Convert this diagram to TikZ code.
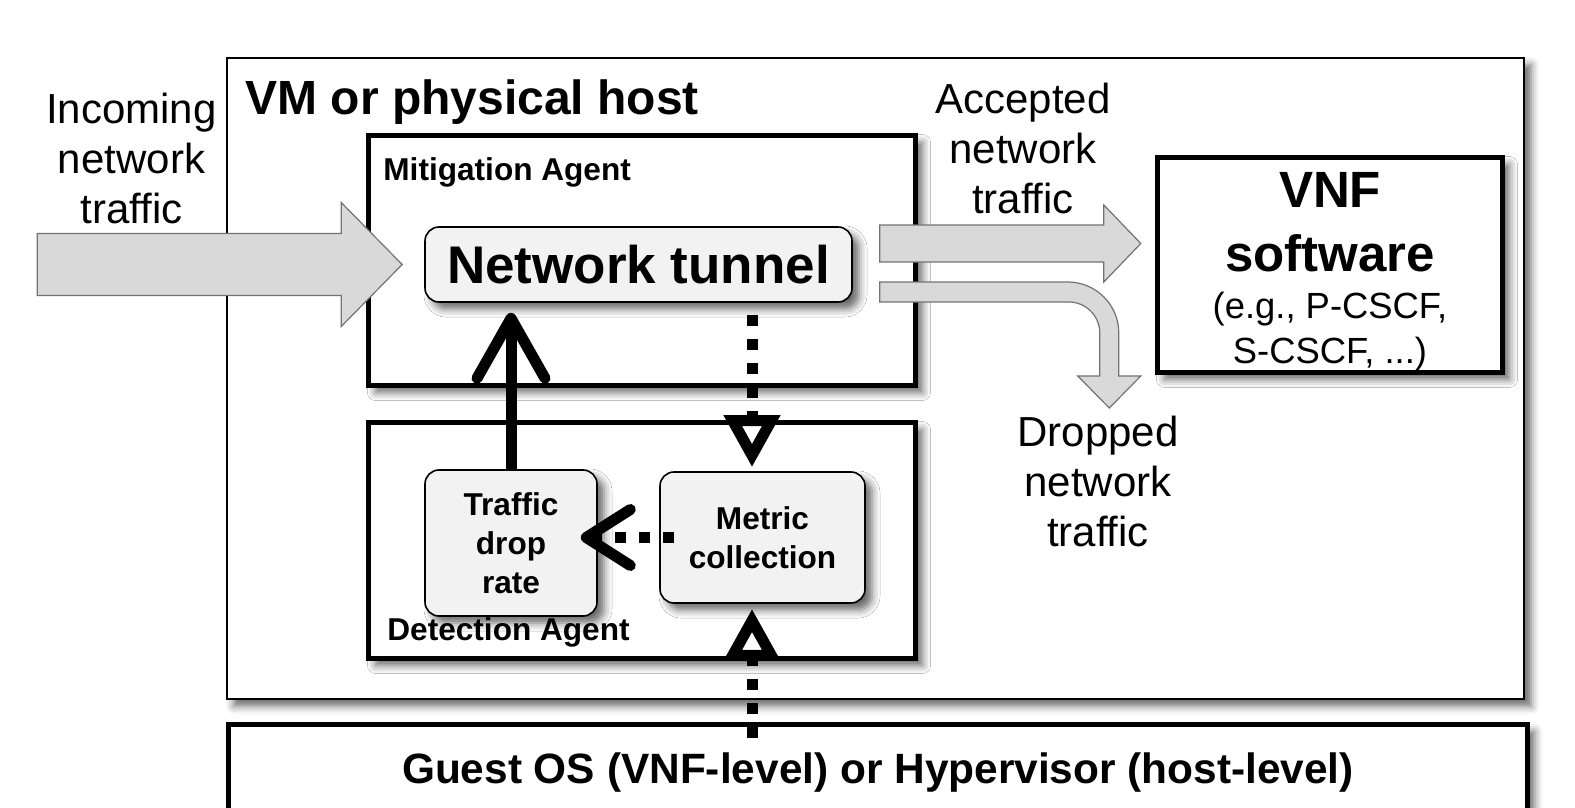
\documentclass[tikz,border=0pt]{standalone}
\usepackage{fontspec}
\setmainfont[Ligatures=NoCommon]{Liberation Sans}
\usetikzlibrary{arrows.meta,shadows,shadows.blur}

\tikzset{
  boxshadow/.style={blur shadow={shadow xshift=3.5pt,shadow yshift=-3.5pt,shadow blur radius=4pt,shadow opacity=60}},
  hostbox/.style={draw,line width=1pt,fill=white,boxshadow,inner sep=0pt,anchor=north west},
  agentbox/.style={draw,line width=2.5pt,fill=white,boxshadow,inner sep=0pt,anchor=north west},
  taskbox/.style={draw,line width=0.8pt,fill=black!5,rounded corners=7pt,boxshadow,align=center,inner sep=0pt,
    font=\fontsize{15.8}{19.5}\selectfont\bfseries},
  boxlabel/.style={anchor=base west,inner sep=0pt,font=\fontsize{15.8}{19}\selectfont\bfseries},
  flow/.style={draw=black!55,line width=0.6pt,fill=black!15},
  plain/.style={align=center,font=\fontsize{21}{25}\selectfont},
  ctrl/.style={line width=5.5pt,-{Straight Barb[length=30pt,width=34pt,round]}},
  probe/.style={line width=5.5pt,dash pattern=on 5.5pt off 6.5pt},
  probetip/.style={-{Triangle[open,length=26pt,width=27pt]}},
}

\begin{document}
\begin{tikzpicture}[x=0.5pt,y=-0.5pt]
\useasboundingbox (0,0) rectangle (1575,808);

% outer host and guest layer
\node[hostbox,minimum width=648.5pt,minimum height=320.5pt] (host) at (226,57) {};
\node[anchor=base west,inner sep=0pt,font=\fontsize{24}{28}\selectfont\bfseries] (hostlabel) at (245,115) {VM or physical host};
\node[agentbox,minimum width=649.5pt,minimum height=48pt,font=\fontsize{21.2}{25}\selectfont\bfseries] (guest) at (226,722)
  {Guest OS (VNF-level) or Hypervisor (host-level)};

% agents
\node[agentbox,minimum width=273.5pt,minimum height=125pt] (mitig) at (366,133) {};
\node[boxlabel] (mitiglabel) at (383,181) {Mitigation Agent};
\node[agentbox,minimum width=273.5pt,minimum height=118pt] (detect) at (366,420) {};
\node[boxlabel] (detectlabel) at (387,640) {Detection Agent};

% VNF
\node[agentbox,minimum width=172.5pt,minimum height=107.5pt] (vnf) at (1155,155) {};
\node[align=center,font=\fontsize{25.5}{32}\selectfont\bfseries] (vnfname) at ([yshift=21.25pt]vnf.center) {VNF\\software};
\node[align=center,font=\fontsize{18.2}{22.5}\selectfont] (vnfex) at ([yshift=-33.5pt]vnf.center) {(e.g., P-CSCF,\\S-CSCF, ...)};

% components
\node[taskbox,minimum width=213.5pt,minimum height=37.5pt,font=\fontsize{26.5}{30}\selectfont\bfseries] (tunnel) at (638.5,264.5) {Network tunnel};
\node[taskbox,minimum width=86pt,minimum height=73pt] (droprate) at (511,543) {Traffic\\drop\\rate};
\node[taskbox,minimum width=102.5pt,minimum height=65.5pt] (metric) at (762.5,537.5) {Metric\\collection};

% traffic labels
\node[plain] (intext) at (131.5,158) {Incoming\\network\\traffic};
\node[plain] (acctext) at (1023,148) {Accepted\\network\\traffic};
\node[plain] (droptext) at (1098,481) {Dropped\\network\\traffic};

% control and measurement
\coordinate (probein) at ([xshift=-5.25pt]metric.north);
\coordinate (probeup) at ([xshift=-5.25pt]metric.south);
\draw[ctrl,shorten >=5pt] (droprate.north) -- (droprate.north |- tunnel.south);
\draw[probe,probetip,shorten <=6pt,shorten >=2pt] (probein |- tunnel.south) -- (probein);
\draw[probe,-{Straight Barb[length=22pt,width=28pt,round]},shorten <=-7.5pt,shorten >=-8.5pt] (metric.west) -- (metric.west -| droprate.east);
\draw[probe,probetip,shorten <=-8pt,shorten >=2.5pt] (probeup |- guest.north) -- (probeup);

% traffic flows
\coordinate (intip) at ([xshift=-11pt]tunnel.west);
\coordinate (accstart) at ([xshift=13.5pt,yshift=19.75pt]tunnel.east);
\coordinate (dropstart) at ([xshift=13.5pt,yshift=-8.75pt]tunnel.east);
\draw[flow] (intip) -- ++(-61,-62) -- ++(0,31) -- ++(-304,0) -- ++(0,62) -- ++(304,0) -- ++(0,31) -- cycle;
\draw[flow] (accstart) -- ++(224,0) -- ++(0,-20) -- ++(37,38.5) -- ++(-37,38.5) -- ++(0,-20) -- ++(-224,0) -- cycle;
\draw[flow] (dropstart) -- ++(188,0) arc[start angle=90,end angle=0,radius=25.5pt] -- ++(0,43) -- ++(22,0)
  -- ++(-31.5,32) -- ++(-31.5,-32) -- ++(22,0) -- ++(0,-43) arc[start angle=0,end angle=90,radius=15.5pt]
  -- ++(-189,0) -- cycle;
\end{tikzpicture}
\end{document}
